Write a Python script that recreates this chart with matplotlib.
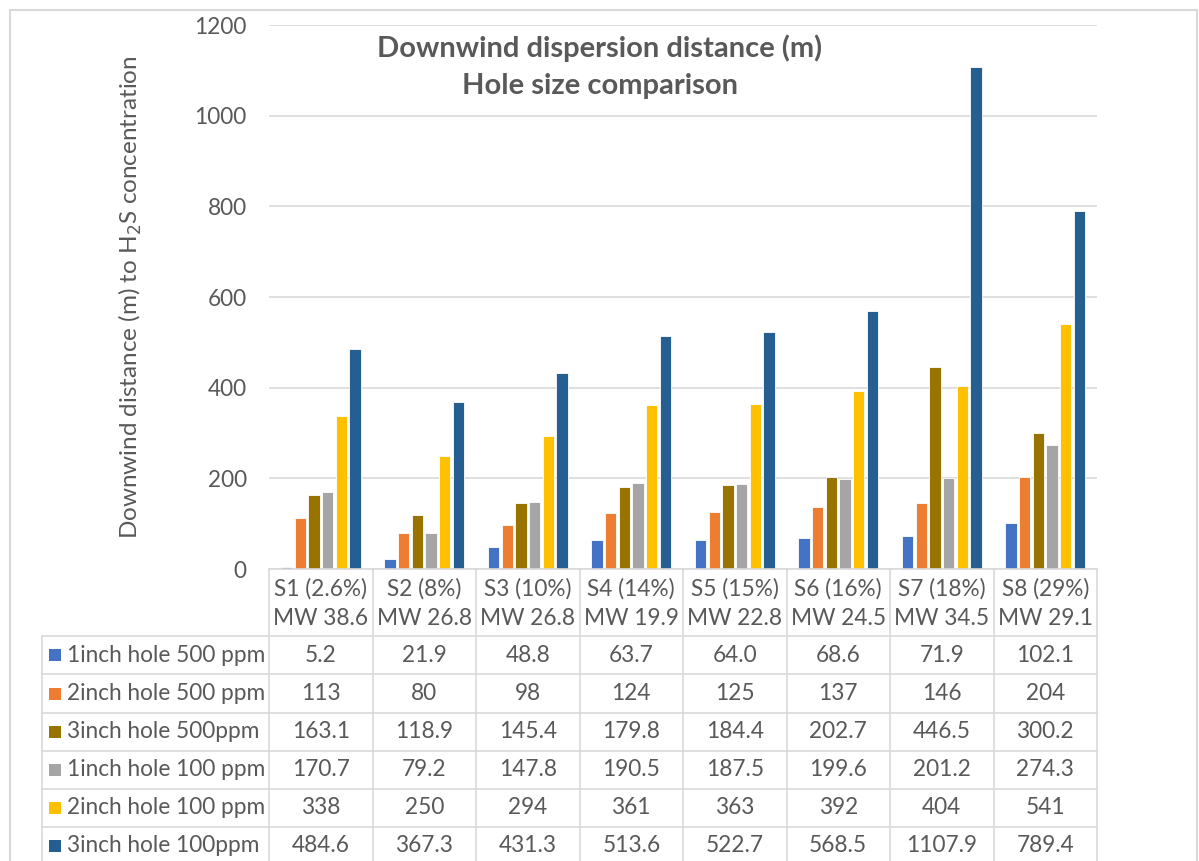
import matplotlib.pyplot as plt
from matplotlib.lines import Line2D
from matplotlib.patches import Rectangle
import numpy as np

plt.rcParams['font.family'] = ['Lato', 'DejaVu Sans']

# Scenarios (H2S content and molecular weight)
scenarios = ["S1 (2.6%)\nMW 38.6", "S2 (8%)\nMW 26.8", "S3 (10%)\nMW 26.8",
             "S4 (14%)\nMW 19.9", "S5 (15%)\nMW 22.8", "S6 (16%)\nMW 24.5",
             "S7 (18%)\nMW 34.5", "S8 (29%)\nMW 29.1"]

series_names = ["1inch hole 500 ppm", "2inch hole 500 ppm", "3inch hole 500ppm",
                "1inch hole 100 ppm", "2inch hole 100 ppm", "3inch hole 100ppm"]

hole1_500 = [5.2, 21.9, 48.8, 63.7, 64.0, 68.6, 71.9, 102.1]
hole2_500 = [113, 80, 98, 124, 125, 137, 146, 204]
hole3_500 = [163.1, 118.9, 145.4, 179.8, 184.4, 202.7, 446.5, 300.2]
hole1_100 = [170.7, 79.2, 147.8, 190.5, 187.5, 199.6, 201.2, 274.3]
hole2_100 = [338, 250, 294, 361, 363, 392, 404, 541]
hole3_100 = [484.6, 367.3, 431.3, 513.6, 522.7, 568.5, 1107.9, 789.4]

# text shown in the data table
table_text = [
    ["5.2", "21.9", "48.8", "63.7", "64.0", "68.6", "71.9", "102.1"],
    ["113", "80", "98", "124", "125", "137", "146", "204"],
    ["163.1", "118.9", "145.4", "179.8", "184.4", "202.7", "446.5", "300.2"],
    ["170.7", "79.2", "147.8", "190.5", "187.5", "199.6", "201.2", "274.3"],
    ["338", "250", "294", "361", "363", "392", "404", "541"],
    ["484.6", "367.3", "431.3", "513.6", "522.7", "568.5", "1107.9", "789.4"],
]

colors = ['#4472C4', '#ED7D31', '#997300', '#A5A5A5', '#FFC000', '#255E91']
TXT = '#595959'
GRID = '#D9D9D9'
FS = 16.3

W, H = 1199, 861
fig = plt.figure(figsize=(W / 100, H / 100), dpi=100)


def fx(x):
    return x / W


def fy(y):
    return 1 - y / H


# plot area in pixels
X0, X1 = 269, 1097
Y0, Y1 = 569, 25
ax = fig.add_axes([fx(X0), fy(Y0), fx(X1) - fx(X0), fy(Y1) - fy(Y0)])

all_series = [hole1_500, hole2_500, hole3_500, hole1_100, hole2_100, hole3_100]
x = np.arange(len(scenarios))
pitch = 0.132
bw = 0.11
for i, vals in enumerate(all_series):
    ax.bar(x + (i - 2.5) * pitch, vals, bw, color=colors[i],
           edgecolor='white', linewidth=0.6, zorder=3)

ax.set_xlim(-0.5, len(scenarios) - 0.5)
ax.set_ylim(0, 1200)
ax.set_yticks(range(0, 1201, 200))
ax.yaxis.grid(True, color=GRID, linewidth=1.2, zorder=0)
ax.set_xticks([])
ax.tick_params(axis='y', length=0, pad=16, labelsize=FS, labelcolor=TXT)
for s in ax.spines.values():
    s.set_visible(False)
ax.set_ylabel('Downwind distance (m) to H$_2$S concentration', fontsize=17.5,
              color=TXT)
ax.yaxis.set_label_coords(-(X0 - 130) / (X1 - X0), 0.5)
ax.yaxis.label.set_va('center')

fig.text(0.5, fy(48), 'Downwind dispersion distance (m)', ha='center',
         va='center', fontsize=21, fontweight='bold', color=TXT)
fig.text(0.5, fy(86), 'Hole size comparison', ha='center', va='center',
         fontsize=21, fontweight='bold', color=TXT)

# data table below the plot area
cw = (X1 - X0) / len(scenarios)
rows = [636, 674, 713, 751, 789, 827, 865]
LX = 42
lw = 1.2


def hline(y, xa, xb):
    fig.add_artist(Line2D([fx(xa), fx(xb)], [fy(y), fy(y)], color=GRID, lw=lw))


def vline(xp, ya, yb):
    fig.add_artist(Line2D([fx(xp), fx(xp)], [fy(ya), fy(yb)], color=GRID, lw=lw))


hline(Y0, X0, X1)
for r in rows[:-1]:
    hline(r, LX, X1)
for j in range(len(scenarios) + 1):
    vline(X0 + j * cw, Y0, H)
vline(LX, rows[0], H)

for j, lab in enumerate(scenarios):
    fig.text(fx(X0 + (j + 0.5) * cw), fy((Y0 + rows[0]) / 2 + 1), lab, ha='center',
             va='center', fontsize=FS, color=TXT, linespacing=1.45)

for i, name in enumerate(series_names):
    yc = (rows[i] + rows[i + 1]) / 2
    fig.add_artist(Rectangle((fx(49), fy(yc + 6)), fx(12), 12 / H,
                             facecolor=colors[i], edgecolor='none'))
    fig.text(fx(67), fy(yc), name, ha='left', va='center', fontsize=FS, color=TXT)
    for j, t in enumerate(table_text[i]):
        fig.text(fx(X0 + (j + 0.5) * cw), fy(yc), t, ha='center', va='center',
                 fontsize=FS, color=TXT)

# chart border
for seg in [([10, 10], [10, H]), ([10, 1197], [10, 10]), ([1197, 1197], [10, H])]:
    fig.add_artist(Line2D([fx(v) for v in seg[0]], [fy(v) for v in seg[1]],
                          color=GRID, lw=1.5))

fig.savefig('out.png', dpi=100)
